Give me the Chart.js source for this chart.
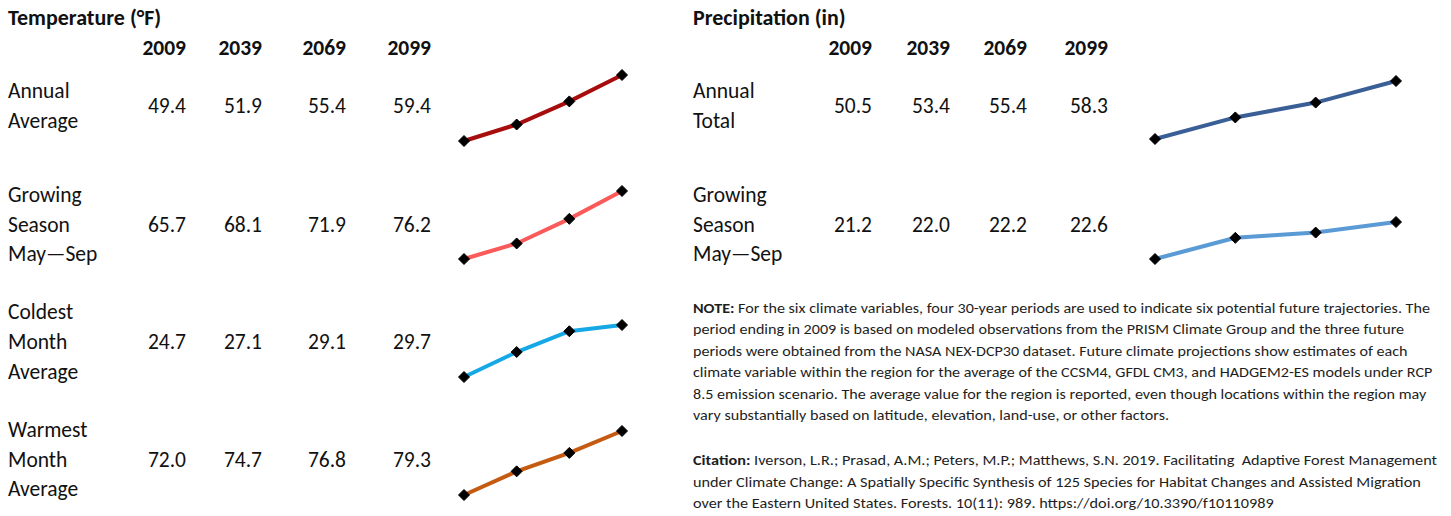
<!DOCTYPE html>
<html>
<head>
<meta charset="utf-8">
<script src="https://cdn.jsdelivr.net/npm/chart.js@4"></script>
<style>
  body { margin: 0; background: #fff; }
  #page { position: relative; width: 1451px; height: 516px; overflow: hidden;
          font-family: Carlito, Calibri, Lato, "Open Sans", sans-serif; color: #111; }
  .t { position: absolute; white-space: nowrap; }
  .spark { position: absolute; }
  .note { position: absolute; left: 693px; font-size: 14px; color: #1e1e1e; transform-origin: 0 0; }
  .note div { white-space: nowrap; height: 21.6px; line-height: 21.6px; }
</style>
</head>
<body>
<div id="page"></div>
<script>
// ---- data ----
var years = ['2009', '2039', '2069', '2099'];

var tempLabels = [['Annual', 'Average'], ['Growing', 'Season', 'May\u2014Sep'],
                  ['Coldest', 'Month', 'Average'], ['Warmest', 'Month', 'Average']];
var tempAnnual = [49.4, 51.9, 55.4, 59.4];
var tempGrowing = [65.7, 68.1, 71.9, 76.2];
var tempColdest = [24.7, 27.1, 29.1, 29.7];
var tempWarmest = [72.0, 74.7, 76.8, 79.3];

var precLabels = [['Annual', 'Total'], ['Growing', 'Season', 'May\u2014Sep']];
var precAnnual = [50.5, 53.4, 55.4, 58.3];
var precGrowing = [21.2, 22.0, 22.2, 22.6];

var noteLines = [
  'For the six climate variables, four 30-year periods are used to indicate six potential future trajectories. The',
  'period ending in 2009 is based on modeled observations from the PRISM Climate Group and the three future',
  'periods were obtained from the NASA NEX-DCP30 dataset. Future climate projections show estimates of each',
  'climate variable within the region for the average of the CCSM4, GFDL CM3, and HADGEM2-ES models under RCP',
  '8.5 emission scenario. The average value for the region is reported, even though locations within the region may',
  'vary substantially based on latitude, elevation, land-use, or other factors.'
];
var citeLines = [
  'Iverson, L.R.; Prasad, A.M.; Peters, M.P.; Matthews, S.N. 2019. Facilitating\u00a0 Adaptive Forest Management',
  'under Climate Change: A Spatially Specific Synthesis of 125 Species for Habitat Changes and Assisted Migration',
  'over the Eastern United States. Forests. 10(11): 989. https://doi.org/10.3390/f10110989'
];

// ---- layout ----
var page = document.getElementById('page');

function text(str, x, yc, opt) {
  opt = opt || {};
  var d = document.createElement('div');
  d.className = 't';
  d.textContent = str;
  var size = opt.size || 21.5;
  d.style.fontSize = size + 'px';
  d.style.lineHeight = (size * 1.2) + 'px';
  d.style.top = (yc + 1.5 - size * 0.6) + 'px';
  if (opt.bold) d.style.fontWeight = 'bold';
  if (opt.right) d.style.right = (1451 - x) + 'px';
  else d.style.left = x + 'px';
  page.appendChild(d);
}

function sparkline(values, color, x0, x1, y0, y1) {
  var pad = 10;
  var c = document.createElement('canvas');
  c.className = 'spark';
  c.width = (x1 - x0) + 2 * pad;
  c.height = (y1 - y0) + 2 * pad;
  c.style.left = (x0 - pad) + 'px';
  c.style.top = (y0 - pad) + 'px';
  page.appendChild(c);
  new Chart(c, {
    type: 'line',
    data: {
      labels: years,
      datasets: [{
        data: values,
        borderColor: color,
        borderWidth: 4,
        tension: 0,
        clip: false,
        pointStyle: 'rectRot',
        pointRadius: 5.5,
        pointBackgroundColor: '#000',
        pointBorderColor: '#000',
        pointBorderWidth: 1
      }]
    },
    options: {
      responsive: false,
      animation: false,
      devicePixelRatio: 1,
      layout: { padding: pad },
      plugins: { legend: { display: false }, tooltip: { enabled: false } },
      scales: {
        x: { display: false, offset: false },
        y: { display: false, min: Math.min.apply(null, values), max: Math.max.apply(null, values) }
      }
    }
  });
}

function table(title, left, colRight, labels, series, rowY, colors, sx0, sx1, sy) {
  text(title, left, 17, { bold: true, size: 22 });
  years.forEach(function (y, i) { text(y, colRight[i], 47.5, { bold: true, size: 21.5, right: true }); });
  series.forEach(function (vals, r) {
    var lines = labels[r];
    lines.forEach(function (ln, k) {
      text(ln, left, rowY[r] + (k - (lines.length - 1) / 2) * 29.7);
    });
    vals.forEach(function (v, i) { text(v.toFixed(1), colRight[i], rowY[r], { right: true }); });
    sparkline(vals, colors[r], sx0, sx1, sy[r][0], sy[r][1]);
  });
}

table('Temperature (\u00b0F)', 8, [186, 262, 346, 431], tempLabels,
      [tempAnnual, tempGrowing, tempColdest, tempWarmest],
      [105.5, 224, 341.5, 459],
      ['#a80d0d', '#fb5a5a', '#16a8e6', '#c55a11'],
      464, 622, [[74.7, 141.3], [191, 259], [325.3, 377.7], [431, 495]]);

table('Precipitation (in)', 693, [872, 950, 1027, 1108], precLabels,
      [precAnnual, precGrowing],
      [105.5, 224],
      ['#3a5f96', '#5b9bd5'],
      1155, 1396, [[80.7, 139], [222.3, 260]]);

function block(head, lines, top, target) {
  var b = document.createElement('div');
  b.className = 'note';
  b.style.top = top + 'px';
  lines.forEach(function (ln, i) {
    var d = document.createElement('div');
    if (i === 0) {
      var s = document.createElement('b');
      s.textContent = head + ' ';
      d.appendChild(s);
    }
    d.appendChild(document.createTextNode(ln));
    b.appendChild(d);
  });
  page.appendChild(b);
  var w = b.firstChild.scrollWidth;
  b.style.transform = 'scaleX(' + (target / w) + ')';
}

block('NOTE:', noteLines, 297.5, 739);
block('Citation:', citeLines, 450, 744);
</script>
</body>
</html>
